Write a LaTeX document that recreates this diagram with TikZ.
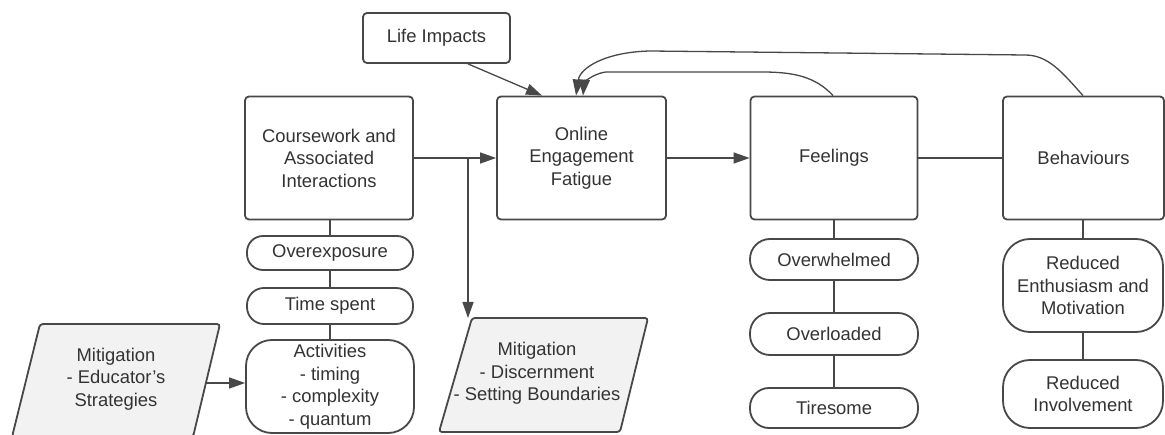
\documentclass[tikz,border=0pt]{standalone}
\usepackage{fontspec}
\setmainfont{Liberation Sans}
\usetikzlibrary{arrows.meta,calc}
\definecolor{ln}{HTML}{484848}
\definecolor{tx}{HTML}{333333}
\definecolor{pf}{HTML}{F2F2F2}
\begin{document}
\begin{tikzpicture}[x=1pt,y=-1pt,
  base/.style={inner sep=0pt, align=center, text=tx, font=\fontsize{18.4}{22.5}\selectfont},
  box/.style={base, draw=ln, line width=1.8pt, rounded corners=4pt, fill=white},
  pill/.style={base, draw=ln, line width=1.8pt, fill=white},
  para/.style={draw=ln, line width=1.8pt, fill=pf, rounded corners=3pt},
  con/.style={draw=ln, line width=1.3pt},
  arr/.style={con, -{Triangle[length=16pt,width=11pt]}}]
\useasboundingbox (0,0) rectangle (1165,435);
\clip (0,0) rectangle (1165,435);
\fill[white] (0,0) rectangle (1165,435);

% main boxes
\node[box, minimum width=147pt, minimum height=50pt] (life) at (436.5,38) {Life Impacts};
\node[box, minimum width=168pt, minimum height=123pt] (course) at (329,158) {Coursework and\\Associated\\Interactions};
\node[box, minimum width=169pt, minimum height=123pt] (online) at (581.5,158) {Online\\Engagement\\Fatigue};
\node[box, minimum width=167pt, minimum height=123pt] (feel) at (834,158) {Feelings};
\node[box, minimum width=161pt, minimum height=123pt] (behav) at (1083.5,158) {Behaviours};

% coursework column
\node[pill, rounded corners=16pt, minimum width=166pt, minimum height=34pt] (overexp) at (330,253) {Overexposure};
\node[pill, rounded corners=17pt, minimum width=166pt, minimum height=36pt] (time) at (330,306) {Time spent};
\node[pill, rounded corners=26pt, minimum width=168pt, minimum height=93pt] (activ) at (330,386.5) {Activities\\- timing\\- complexity\\- quantum};

% feelings column
\node[pill, rounded corners=20pt, minimum width=168pt, minimum height=41pt] (overw) at (834,259.5) {Overwhelmed};
\node[pill, rounded corners=20pt, minimum width=168pt, minimum height=42pt] (overl) at (834,334) {Overloaded};
\node[pill, rounded corners=19pt, minimum width=168pt, minimum height=40pt] (tire) at (834,408) {Tiresome};

% behaviours column
\node[pill, rounded corners=27pt, minimum width=160pt, minimum height=93pt] (renth) at (1083,285.5) {Reduced\\Enthusiasm and\\Motivation};
\node[pill, rounded corners=27pt, minimum width=160pt, minimum height=68pt] (rinv) at (1083,394) {Reduced\\Involvement};

% mitigation parallelograms
\draw[para] (40,324) -- (220,324) -- (193,437) -- (12,437) -- cycle;
\node[base] (mit1) at (116,379) {Mitigation\\- Educator{\char"0027}s\\Strategies};
\draw[para] (472,318) -- (648,318) -- (620,432) -- (439,432) -- cycle;
\node[base] (mit2) at (537,373.5) {Mitigation\\- Discernment\\- Setting Boundaries};
\coordinate (m1r) at (206,383);
\coordinate (m2top) at (468,318);

% connectors
\draw[con] (course.south -| overexp.north) -- (overexp.north);
\draw[con] (overexp.south) -- (time.north);
\draw[con] (time.south) -- (activ.north);
\draw[con] (feel.south) -- (overw.north);
\draw[con] (overw.south) -- (overl.north);
\draw[con] (overl.south) -- (tire.north);
\draw[con] (behav.south -| renth.north) -- (renth.north);
\draw[con] (renth.south) -- (rinv.north);

\draw[arr] (m1r) -- (m1r -| activ.west);
\draw[arr] (course.east) -- (online.west);
\draw[arr] (course.east -| m2top) -- (m2top);
\draw[arr] (online.east) -- (feel.west);
\draw[con] (feel.east) -- (behav.west);
\draw[arr] ([xshift=31.5pt]life.south) -- ([xshift=-39.5pt]online.north);
\draw[arr] ([xshift=-1pt]feel.north) .. controls (815,76) and (792,72) .. (762,72)
   -- (606,72) .. controls (591,74) and (584,84) .. ([xshift=1.5pt]online.north);
\draw[arr] ([xshift=-0.5pt]behav.north) .. controls (1062,72) and (1048,55) .. (1025,55)
   -- (650,51) .. controls (605,52) and (580,68) .. ([xshift=-5.5pt]online.north);
\end{tikzpicture}
\end{document}
